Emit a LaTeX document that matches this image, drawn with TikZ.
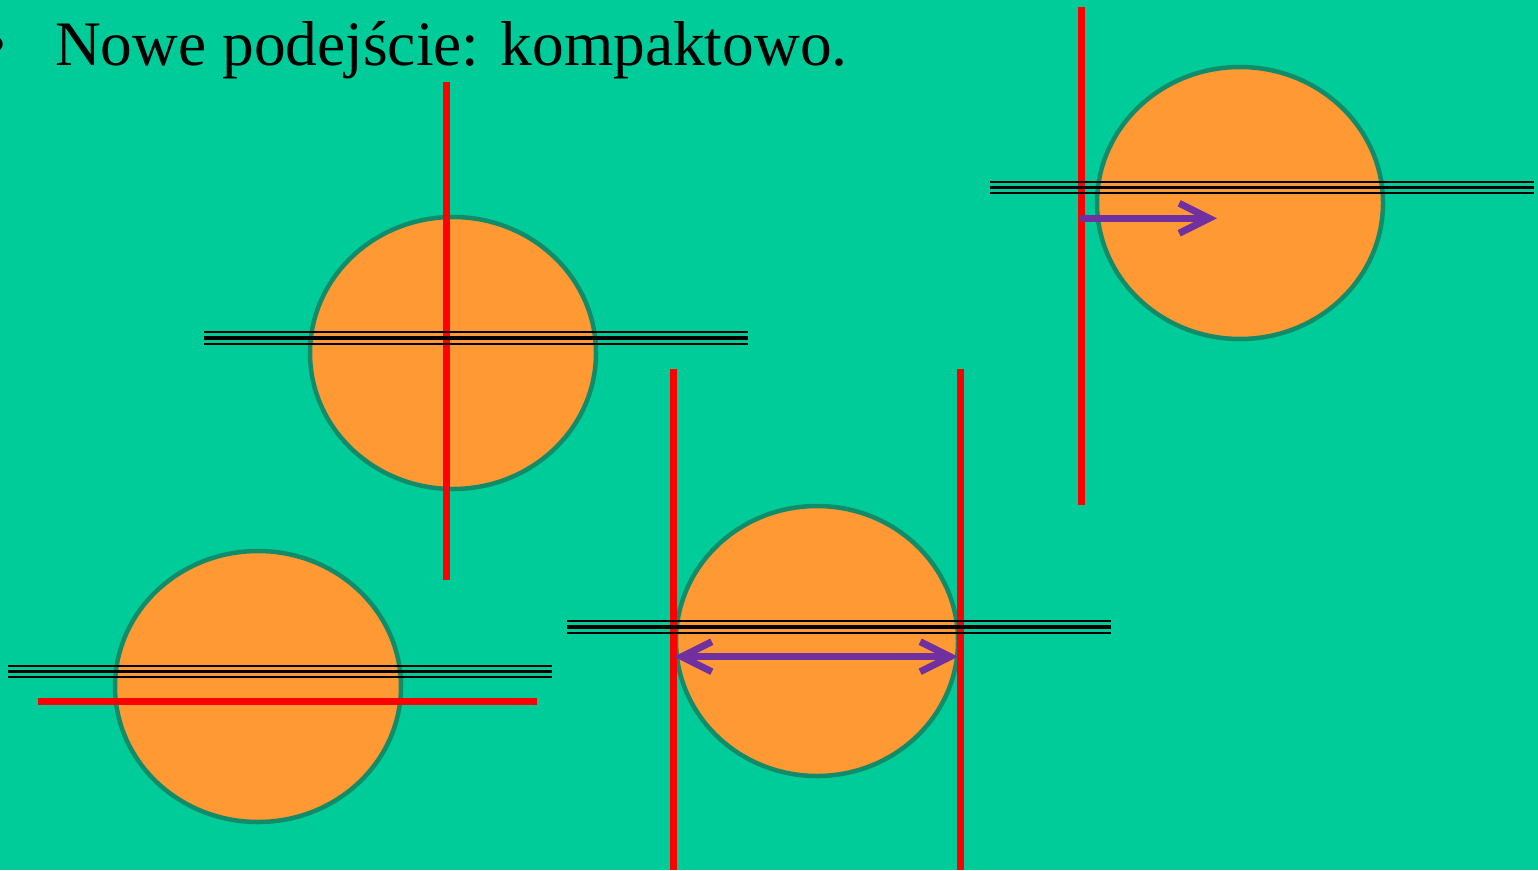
\documentclass[tikz,border=0pt]{standalone}
\usepackage{fontspec}
\setmainfont{Liberation Serif}
\usetikzlibrary{arrows.meta}
\definecolor{bg}{RGB}{0,204,153}
\definecolor{orangefill}{RGB}{255,153,51}
\definecolor{rim}{RGB}{18,140,104}
\definecolor{redline}{RGB}{255,0,0}
\definecolor{violet}{RGB}{112,48,160}
\tikzset{
  disc/.style={fill=orangefill, draw=rim, line width=4.5pt},
  redbar/.style={draw=redline, line width=7pt},
  thinline/.style={draw=black, line width=2pt},
  thickline/.style={draw=black, line width=3.5pt},
  violetarrow/.style={draw=violet, line width=7pt, line cap=round,
    arrows={-Straight Barb[length=30pt,width=30pt]}},
  violetdouble/.style={draw=violet, line width=7pt, line cap=round,
    arrows={Straight Barb[length=30pt,width=30pt]-Straight Barb[length=30pt,width=30pt]}},
  titletext/.style={font=\fontsize{63.4}{70}\selectfont, anchor=base west, inner sep=0pt}
}
\newcommand{\tripleline}[4]{%
  \coordinate (tl#1a) at (#3,#2);
  \coordinate (tl#1b) at (#4,#2);
  \draw[thickline] (tl#1a) -- (tl#1b);
  \draw[thinline] ([yshift=-5.6pt]tl#1a) -- ([yshift=-5.6pt]tl#1b);
  \draw[thinline] ([yshift=5.6pt]tl#1a) -- ([yshift=5.6pt]tl#1b);
}
\begin{document}
\begin{tikzpicture}[x=1pt,y=-1pt]
\fill[bg] (0,0) rectangle (1538,870);
\useasboundingbox (0,0) rectangle (1538,870);

% title
\node[titletext] (title) at (55,65) {Nowe podejście: kompaktowo.};
\node[titletext] (bullet) at (-16,65) {•};

% discs
\draw[disc] (453,353) ellipse [x radius=143, y radius=136];
\draw[disc] (258,686.5) ellipse [x radius=143, y radius=135.5];
\draw[disc] (817,641) ellipse [x radius=141, y radius=135];
\draw[disc] (1240,203) ellipse [x radius=143, y radius=136];

% red bars
\coordinate (r1a) at (446,82);   \coordinate (r1b) at (446,580);
\coordinate (r2a) at (673,369);  \coordinate (r2b) at (673,870);
\coordinate (r3a) at (960,369);  \coordinate (r3b) at (960,870);
\coordinate (r4a) at (1081,7);   \coordinate (r4b) at (1081,505);
\coordinate (r5a) at (38,701.5); \coordinate (r5b) at (537,701.5);
\draw[redbar] (r1a) -- (r1b);
\draw[redbar] (r2a) -- (r2b);
\draw[redbar] (r3a) -- (r3b);
\draw[redbar] (r4a) -- (r4b);
\draw[redbar] (r5a) -- (r5b);

% triple lines
\tripleline{A}{338}{204}{748}
\tripleline{B}{671.7}{8}{552}
\tripleline{C}{627}{567}{1111}
\tripleline{D}{187.7}{990}{1534}

% violet arrows
\coordinate (a1s) at (1083,218.3);
\coordinate (a1e) at (1217,218.3);
\draw[violetarrow] (a1s) -- (a1e);
\coordinate (a2s) at (674,656.7);
\coordinate (a2e) at (958,656.7);
\draw[violetdouble] (a2s) -- (a2e);
\end{tikzpicture}
\end{document}
